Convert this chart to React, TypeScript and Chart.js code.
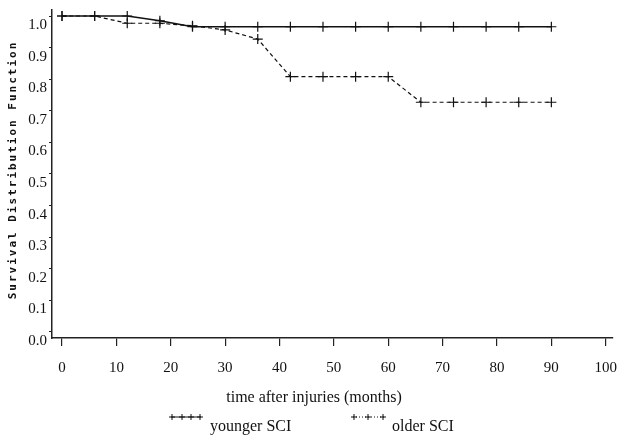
import React, { useEffect, useRef } from "react";
import { Chart, registerables } from "chart.js";

Chart.register(...registerables);

const months = [0, 6, 12, 18, 24, 30, 36, 42, 48, 54, 60, 66, 72, 78, 84, 90];
const youngerSCI = [1.0, 1.0, 1.0, 0.985, 0.966, 0.966, 0.966, 0.966, 0.966, 0.966, 0.966, 0.966, 0.966, 0.966, 0.966, 0.966];
const olderSCI = [1.0, 1.0, 0.977, 0.977, 0.969, 0.956, 0.927, 0.808, 0.808, 0.808, 0.808, 0.727, 0.727, 0.727, 0.727, 0.727];
const xTicks = [0, 10, 20, 30, 40, 50, 60, 70, 80, 90, 100];
const yTicks = [0, 0.1, 0.2, 0.3, 0.4, 0.5, 0.6, 0.7, 0.8, 0.9, 1.0];
const xTitle = "time after injuries (months)";
const yTitle = "Survival Distribution Function";
const legendLabels = ["younger SCI", "older SCI"];

const SERIF = '"Liberation Serif", "Times New Roman", serif';

function drawCross(ctx: CanvasRenderingContext2D, x: number, y: number, r: number) {
  ctx.beginPath();
  ctx.moveTo(x - r, y);
  ctx.lineTo(x + r, y);
  ctx.moveTo(x, y - r);
  ctx.lineTo(x, y + r);
  ctx.stroke();
}

const decorPlugin = {
  id: "decor",
  afterDraw(chart: any) {
    const ctx: CanvasRenderingContext2D = chart.ctx;
    ctx.save();
    ctx.fillStyle = "#111";
    ctx.strokeStyle = "#111";
    // x title
    ctx.font = `16px ${SERIF}`;
    ctx.textAlign = "center";
    ctx.textBaseline = "middle";
    ctx.fillText(xTitle, 314, 398);
    // y title
    ctx.save();
    ctx.translate(13, 170);
    ctx.rotate(-Math.PI / 2);
    ctx.font = 'bold 11px "DejaVu Sans Mono", monospace';
    (ctx as any).letterSpacing = "2px";
    ctx.textAlign = "center";
    ctx.textBaseline = "middle";
    ctx.fillText(yTitle, 0, 0);
    ctx.restore();
    // legend
    ctx.lineWidth = 1;
    ctx.setLineDash([]);
    ctx.beginPath();
    ctx.moveTo(171, 417);
    ctx.lineTo(201, 417);
    ctx.stroke();
    [172, 182, 191, 200].forEach((x) => drawCross(ctx, x, 417, 3));
    ctx.setLineDash([1, 2]);
    ctx.beginPath();
    ctx.moveTo(353, 417);
    ctx.lineTo(384, 417);
    ctx.stroke();
    ctx.setLineDash([]);
    [354, 368, 383].forEach((x) => drawCross(ctx, x, 417, 3));
    ctx.font = `16px ${SERIF}`;
    ctx.textAlign = "left";
    ctx.textBaseline = "middle";
    ctx.fillText(legendLabels[0], 210, 427);
    ctx.fillText(legendLabels[1], 392, 427);
    ctx.restore();
  },
};

export default function App() {
  const ref = useRef<HTMLCanvasElement>(null);
  useEffect(() => {
    if (!ref.current) return;
    const chart = new Chart(ref.current, {
      type: "line",
      data: {
        datasets: [
          {
            label: legendLabels[0],
            data: months.map((m, i) => ({ x: m, y: youngerSCI[i] })),
            borderColor: "#111",
            borderWidth: 1.6,
            pointStyle: "cross",
            pointRadius: 5,
            pointBorderWidth: 1.2,
            pointBorderColor: "#111",
            tension: 0,
          },
          {
            label: legendLabels[1],
            data: months.map((m, i) => ({ x: m, y: olderSCI[i] })),
            borderColor: "#111",
            borderWidth: 1.2,
            borderDash: [4, 3],
            pointStyle: "cross",
            pointRadius: 5,
            pointBorderWidth: 1.2,
            pointBorderColor: "#111",
            tension: 0,
          },
        ],
      },
      options: {
        responsive: false,
        animation: false,
        layout: { padding: { left: 0, right: 1, top: 10, bottom: 0 } },
        plugins: { legend: { display: false }, tooltip: { enabled: false } },
        scales: {
          x: {
            type: "linear",
            min: -1.84,
            max: 101.3,
            afterBuildTicks: (s: any) => {
              s.ticks = xTicks.map((v) => ({ value: v }));
            },
            afterFit: (s: any) => {
              s.height = 97;
              s.paddingLeft = 0;
              s.paddingRight = 0;
            },
            border: { color: "#222", width: 1.5 },
            grid: { drawOnChartArea: false, tickLength: 8, color: "#222", lineWidth: 1.2 },
            ticks: {
              color: "#111",
              font: { family: SERIF, size: 15 },
              padding: 13,
              maxRotation: 0,
              autoSkip: false,
              callback: (v: any) => String(v),
            },
          },
          y: {
            type: "linear",
            min: -0.019,
            max: 1.019,
            afterBuildTicks: (s: any) => {
              s.ticks = yTicks.map((v) => ({ value: v }));
            },
            afterFit: (s: any) => {
              s.width = 52;
              s.paddingTop = 0;
              s.paddingBottom = 0;
            },
            border: { color: "#222", width: 1.5 },
            grid: { drawOnChartArea: false, tickLength: 3, color: "#222", lineWidth: 1 },
            ticks: {
              color: "#111",
              font: { family: SERIF, size: 15 },
              padding: 2,
              labelOffset: 9,
              autoSkip: false,
              callback: (v: any) => Number(v).toFixed(1),
            },
          },
        },
      },
      plugins: [decorPlugin],
    });
    return () => chart.destroy();
  }, []);
  return (
    <div style={{ position: "fixed", left: 0, top: 0, width: 619, height: 435, background: "#fff" }}>
      <canvas ref={ref} width={619} height={435} />
    </div>
  );
}
